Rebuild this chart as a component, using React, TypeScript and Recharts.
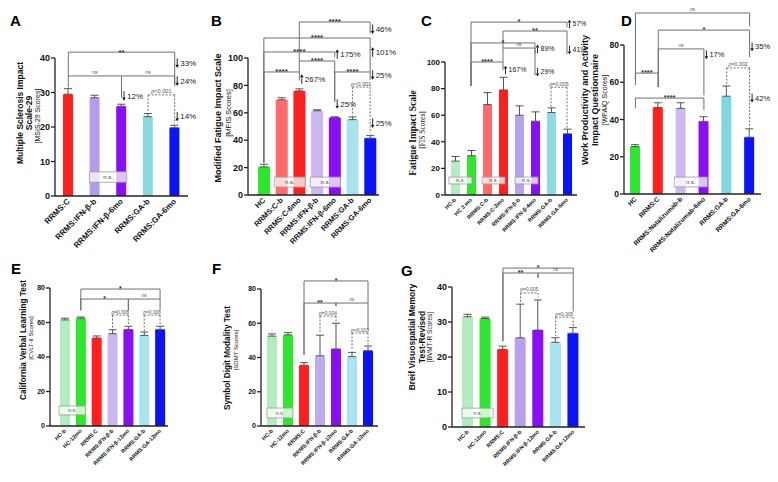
import React from 'react';
import { BarChart, Bar, XAxis, YAxis, ErrorBar, Cell, ReferenceLine, ReferenceDot, ReferenceArea } from 'recharts';

const FONT = '"Liberation Sans", Arial, sans-serif';
const SERIF = '"Liberation Serif", "Times New Roman", serif';

// ---------- data ----------
const catsA = ['RRMS:C', 'RRMS:IFN-β-b', 'RRMS:IFN-β-6mo', 'RRMS:GA-b', 'RRMS:GA-6mo'];
const valsA = [29.5, 28.5, 26, 23, 19.8];
const errsA = [1.6, 0.7, 0.6, 0.9, 0.7];

const catsB = ['HC', 'RRMS:C-b', 'RRMS:C-6mo', 'RRMS:IFN-β-b', 'RRMS:IFN-β-6mo', 'RRMS:GA-b', 'RRMS:GA-6mo'];
const valsB = [20.5, 69.5, 76, 61.5, 56.5, 55, 41.5];
const errsB = [2, 1.5, 1.5, 0.7, 0.6, 2, 2];

const catsC = ['HC-b', 'HC 3 mo', 'RRMS:C-b', 'RRMS:C-2mo', 'RRMS:IFN-β-b', 'RRMS:IFN-β-4mo', 'RRMS:GA-b', 'RRMS:GA-6mo'];
const valsC = [25.5, 29.5, 68, 79, 60, 55.5, 62, 46];
const errsC = [3.5, 4, 9, 9.5, 7, 7, 3.5, 3.5];

const catsD = ['HC', 'RRMS:C', 'RRMS:Natalizumab-b', 'RRMS:Natalizumab-6mo', 'RRMS:GA-b', 'RRMS:GA-6mo'];
const valsD = [25.5, 46.5, 46, 39, 52.5, 30.5];
const errsD = [1, 2.5, 3, 2.5, 5.5, 4.5];

const catsE = ['HC-b', 'HC-12mo', 'RRMS C', 'RRMS:IFN-β-b', 'RRMS:IFN-β-12mo', 'RRMS:GA-b', 'RRMS:GA-12mo'];
const valsE = [61.5, 62.5, 51, 53.5, 56, 52.5, 56];
const errsE = [1, 0.7, 1.2, 2.3, 1.8, 2, 1.8];

const catsF = ['HC-b', 'HC-12mo', 'RRMS:C', 'RRMS:IFN-β-b', 'RRMS:IFN-β-12mo', 'RRMS:GA-b', 'RRMS:GA-12mo'];
const valsF = [52.5, 53.2, 35.5, 41, 45, 40.5, 44];
const errsF = [1.3, 1.3, 1.5, 12, 15, 2.5, 2.7];

const catsG = ['HC-b', 'HC-12mo', 'RRMS:C', 'RRMS:IFN-β-b', 'RRMS:IFN-β-12mo', 'RRMS:GA-b', 'RRMS:GA-12mo'];
const valsG = [31.5, 31, 22.2, 25.5, 27.7, 24.2, 26.8];
const errsG = [0.7, 0.4, 0.9, 9.6, 8.6, 1.3, 1.6];

const ticks40 = [0, 10, 20, 30, 40];
const ticks80 = [0, 20, 40, 60, 80];
const ticks100 = [0, 20, 40, 60, 80, 100];

// ---------- colours ----------
const GREEN = '#2ee62e', LGREEN = '#b4ecc2', RED = '#ff1f1f', LRED = '#ff6b6b', PURPLE = '#8a0ff5', BLUE = '#0a14f5';
const colorsA = [RED, '#b49cec', PURPLE, '#8ad8e4', BLUE];
const colorsB = [GREEN, LRED, RED, '#cbb6f2', PURPLE, '#a9e4ee', BLUE];
const colorsC = [LGREEN, GREEN, LRED, RED, '#b8a2ee', PURPLE, '#8ed9e6', BLUE];
const colorsD = [GREEN, RED, '#cdb9f2', PURPLE, '#7fd7de', BLUE];
const colorsE = [LGREEN, GREEN, RED, '#cab6f2', PURPLE, '#a8e4ef', BLUE];
const colorsF = [LGREEN, GREEN, RED, '#c0aaf0', PURPLE, '#a8e4ef', BLUE];
const colorsG = [LGREEN, GREEN, RED, '#b8a0ee', PURPLE, '#a8e4ef', BLUE];

type Br = { a: string; b: string; h: number; la: number; lb: number; t: string; d?: boolean };
type Pc = { c: string; y: number; t: string; up?: boolean };
type Bx = { a: string; b: string; y1: number; y2: number; il: number; ir: number };

// ---------- annotations ----------
const brA: Br[] = [
  { a: 'RRMS:C', b: 'RRMS:GA-6mo', h: 41.7, la: 34.8, lb: 32, t: '**' },
  { a: 'RRMS:C', b: 'RRMS:IFN-β-6mo', h: 34.8, la: 31.5, lb: 28.5, t: 'ns' },
  { a: 'RRMS:IFN-β-6mo', b: 'RRMS:GA-6mo', h: 34.8, la: 34.8, lb: 32, t: 'ns' },
  { a: 'RRMS:GA-b', b: 'RRMS:GA-6mo', h: 29.3, la: 24.3, lb: 21, t: '<0.001', d: true },
];
const pcA: Pc[] = [
  { c: 'RRMS:GA-6mo', y: 38.5, t: '33%' },
  { c: 'RRMS:GA-6mo', y: 33.3, t: '24%' },
  { c: 'RRMS:IFN-β-6mo', y: 29, t: '12%' },
  { c: 'RRMS:GA-6mo', y: 23, t: '14%' },
];
const bxA: Bx[] = [{ a: 'RRMS:IFN-β-b', b: 'RRMS:IFN-β-6mo', y1: 4, y2: 7, il: 8, ir: 8 }];

const brB: Br[] = [
  { a: 'RRMS:C-6mo', b: 'RRMS:GA-6mo', h: 126.3, la: 97.8, lb: 118, t: '****' },
  { a: 'HC', b: 'RRMS:GA-6mo', h: 114.6, la: 23.5, lb: 89.8, t: '****' },
  { a: 'HC', b: 'RRMS:IFN-β-6mo', h: 104.4, la: 23.5, lb: 100.5, t: '****' },
  { a: 'RRMS:C-6mo', b: 'RRMS:IFN-β-6mo', h: 97.8, la: 89.8, lb: 68, t: '****' },
  { a: 'HC', b: 'RRMS:C-6mo', h: 89.8, la: 23.5, lb: 83.5, t: '****' },
  { a: 'RRMS:IFN-β-6mo', b: 'RRMS:GA-6mo', h: 89.8, la: 68, lb: 84, t: '****' },
  { a: 'RRMS:GA-b', b: 'RRMS:GA-6mo', h: 78.8, la: 58, lb: 45, t: '<0.001', d: true },
];
const pcB: Pc[] = [
  { c: 'RRMS:GA-6mo', y: 121, t: '46%' },
  { c: 'RRMS:GA-6mo', y: 104.4, t: '101%', up: true },
  { c: 'RRMS:GA-6mo', y: 87.6, t: '25%' },
  { c: 'RRMS:C-6mo', y: 84.7, t: '267%', up: true },
  { c: 'RRMS:IFN-β-6mo', y: 102.9, t: '175%', up: true },
  { c: 'RRMS:IFN-β-6mo', y: 66.4, t: '25%' },
  { c: 'RRMS:GA-6mo', y: 52.5, t: '25%' },
];
const bxB: Bx[] = [
  { a: 'RRMS:C-b', b: 'RRMS:C-6mo', y1: 5.8, y2: 13.1, il: 2, ir: 3 },
  { a: 'RRMS:IFN-β-b', b: 'RRMS:IFN-β-6mo', y1: 5.8, y2: 13.1, il: 2, ir: 3 },
];

const brC: Br[] = [
  { a: 'HC 3 mo', b: 'RRMS:GA-6mo', h: 130, la: 82, lb: 126, t: '*' },
  { a: 'RRMS:C-2mo', b: 'RRMS:GA-6mo', h: 123.3, la: 110.5, lb: 106, t: '**' },
  { a: 'HC 3 mo', b: 'RRMS:IFN-β-4mo', h: 114.3, la: 82, lb: 106.5, t: '*' },
  { a: 'RRMS:C-2mo', b: 'RRMS:IFN-β-4mo', h: 110.5, la: 100, lb: 90, t: 'ns' },
  { a: 'HC 3 mo', b: 'RRMS:C-2mo', h: 100, la: 82, lb: 94, t: '****' },
  { a: 'RRMS:GA-b', b: 'RRMS:GA-6mo', h: 81, la: 66, lb: 50, t: '=0.005', d: true },
];
const pcC: Pc[] = [
  { c: 'RRMS:GA-6mo', y: 128.6, t: '57%', up: true },
  { c: 'RRMS:GA-6mo', y: 109, t: '41%' },
  { c: 'RRMS:IFN-β-4mo', y: 109.8, t: '89%', up: true },
  { c: 'RRMS:C-2mo', y: 94, t: '167%', up: true },
  { c: 'RRMS:IFN-β-4mo', y: 92.5, t: '29%' },
];
const bxC: Bx[] = [
  { a: 'HC-b', b: 'HC 3 mo', y1: 8.3, y2: 13.5, il: 2, ir: 7 },
  { a: 'RRMS:C-b', b: 'RRMS:C-2mo', y1: 8.3, y2: 13.5, il: 3, ir: 6 },
  { a: 'RRMS:IFN-β-b', b: 'RRMS:IFN-β-4mo', y1: 8.3, y2: 13.5, il: 4, ir: 5 },
];

const brD: Br[] = [
  { a: 'HC', b: 'RRMS:GA-6mo', h: 97.2, la: 61, lb: 90, t: 'ns' },
  { a: 'RRMS:C', b: 'RRMS:GA-6mo', h: 88, la: 57.4, lb: 73.5, t: '*' },
  { a: 'RRMS:C', b: 'RRMS:Natalizumab-6mo', h: 77.9, la: 57.4, lb: 53, t: 'ns' },
  { a: 'HC', b: 'RRMS:C', h: 64.9, la: 58.5, lb: 57.4, t: '****' },
  { a: 'HC', b: 'RRMS:Natalizumab-6mo', h: 51.5, la: 46, lb: 45, t: '****' },
  { a: 'RRMS:GA-b', b: 'RRMS:GA-6mo', h: 67.7, la: 58.5, lb: 35.5, t: '=0.002', d: true },
];
const pcD: Pc[] = [
  { c: 'RRMS:GA-6mo', y: 79, t: '35%' },
  { c: 'RRMS:Natalizumab-6mo', y: 74.7, t: '17%' },
  { c: 'RRMS:GA-6mo', y: 51.5, t: '42%' },
];
const bxD: Bx[] = [{ a: 'RRMS:Natalizumab-b', b: 'RRMS:Natalizumab-6mo', y1: 3.8, y2: 9.1, il: 4.5, ir: 8 }];

const brE: Br[] = [
  { a: 'HC-12mo', b: 'RRMS:GA-12mo', h: 79.4, la: 67, lb: 73.6, t: '*' },
  { a: 'HC-12mo', b: 'RRMS:IFN-β-12mo', h: 73.6, la: 67, lb: 67, t: '*' },
  { a: 'RRMS:IFN-β-12mo', b: 'RRMS:GA-12mo', h: 73.6, la: 67, lb: 67, t: 'ns' },
  { a: 'RRMS:IFN-β-b', b: 'RRMS:IFN-β-12mo', h: 64.3, la: 56.5, lb: 58.5, t: '=0.006', d: true },
  { a: 'RRMS:GA-b', b: 'RRMS:GA-12mo', h: 64.3, la: 55, lb: 58.5, t: '=0.006', d: true },
];
const bxE: Bx[] = [{ a: 'HC-b', b: 'HC-12mo', y1: 6.4, y2: 11.6, il: 2, ir: 3 }];

const brF: Br[] = [
  { a: 'RRMS:C', b: 'RRMS:GA-12mo', h: 84.7, la: 41.5, lb: 71.8, t: '*' },
  { a: 'RRMS:C', b: 'RRMS:IFN-β-12mo', h: 71.8, la: 41.5, lb: 70, t: '**' },
  { a: 'RRMS:IFN-β-12mo', b: 'RRMS:GA-12mo', h: 71.8, la: 70, lb: 56, t: 'ns' },
  { a: 'RRMS:IFN-β-b', b: 'RRMS:IFN-β-12mo', h: 64.2, la: 55, lb: 61, t: '=0.004', d: true },
  { a: 'RRMS:GA-b', b: 'RRMS:GA-12mo', h: 54.3, la: 44, lb: 47.5, t: '=0.003', d: true },
];
const bxF: Bx[] = [{ a: 'HC-b', b: 'HC-12mo', y1: 4.7, y2: 10.5, il: 3, ir: 3 }];

const brG: Br[] = [
  { a: 'RRMS:C', b: 'RRMS:GA-12mo', h: 45.4, la: 24.5, lb: 44, t: '*' },
  { a: 'RRMS:C', b: 'RRMS:IFN-β-12mo', h: 44, la: 24.5, lb: 42.6, t: '**' },
  { a: 'RRMS:IFN-β-12mo', b: 'RRMS:GA-12mo', h: 44, la: 42.6, lb: 33, t: 'ns' },
  { a: 'RRMS:IFN-β-b', b: 'RRMS:IFN-β-12mo', h: 38.3, la: 35.5, lb: 37, t: '=0.005', d: true },
  { a: 'RRMS:GA-b', b: 'RRMS:GA-12mo', h: 31.4, la: 26, lb: 28.8, t: '=0.005', d: true },
];
const bxG: Bx[] = [{ a: 'HC-b', b: 'HC-12mo', y1: 2.6, y2: 5.4, il: 3, ir: 1 }];

// ---------- helpers ----------
const XTick = (props: any) => {
  const { x, y, payload, fs } = props;
  return (
    <g transform={`translate(${x},${y})`}>
      <text x={0} y={0} dy={fs * 0.35} textAnchor="end" transform="rotate(-45)" fontSize={fs} fontWeight="bold" fill="#111" fontFamily={FONT}>
        {payload.value}
      </text>
    </g>
  );
};

const brLabel = (t: string, dashed: boolean, fs: number) => (props: any) => {
  const vb = props.viewBox || {};
  const cx = (vb.x || 0) + (vb.width || 0) / 2;
  const y = vb.y || 0;
  if (dashed) {
    return (
      <text x={cx} y={y - 1.5} textAnchor="middle" fontSize={fs * 0.7} fill="#555" fontFamily={FONT}>
        <tspan fontStyle="italic">p</tspan>
        {t}
      </text>
    );
  }
  if (t.startsWith('*')) {
    return (
      <text x={cx} y={y + fs * 0.3} textAnchor="middle" fontSize={fs} fontWeight="bold" fill="#333" fontFamily={FONT}>
        {t}
      </text>
    );
  }
  return (
    <text x={cx} y={y - 2} textAnchor="middle" fontSize={fs * 0.65} fill="#555" fontFamily={FONT}>
      {t}
    </text>
  );
};

const pcLabel = (t: string, up: boolean, fs: number) => (props: any) => {
  const vb = props.viewBox || {};
  const x = (vb.x || 0) + (vb.width || 0) / 2 + 2.5;
  const y = (vb.y || 0) + (vb.height || 0) / 2;
  const half = fs * 0.6;
  const head = fs * 0.4;
  const tipY = up ? y - half : y + half;
  const baseY = up ? tipY + head : tipY - head;
  return (
    <g>
      <line x1={x} y1={up ? y + half : y - half} x2={x} y2={baseY} stroke="#111" strokeWidth={0.9} />
      <path d={`M${x - 1.8},${baseY} L${x + 1.8},${baseY} L${x},${tipY} Z`} fill="#111" />
      <text x={x + 3} y={y + fs * 0.35} fontSize={fs} fill="#222" fontFamily={FONT}>
        {t}
      </text>
    </g>
  );
};

const nsShape = (il: number, ir: number, fs: number) => (props: any) => {
  const { x, y, width, height } = props;
  const rx = x + il;
  const rw = Math.max(1, width - il - ir);
  return (
    <g>
      <rect x={rx} y={y} width={rw} height={height} fill="#ffffff" fillOpacity={0.75} stroke="#9a9a9a" strokeWidth={0.8} />
      <text x={rx + rw / 2} y={y + height / 2 + fs * 0.35} textAnchor="middle" fontSize={fs} fill="#444" fontFamily={FONT}>
        n.s.
      </text>
    </g>
  );
};

type PanelProps = {
  cats: string[]; vals: number[]; errs: number[]; colors: string[];
  x0: number; x1: number; yTop: number; yBot: number; padL: number; padR: number;
  ymax: number; ticks: number[]; barSize: number; tickFs: number; xFs: number;
  starFs: number; pcFs: number; nsFs: number;
  brackets: Br[]; pcts: Pc[]; boxes: Bx[];
};

function Panel(p: PanelProps) {
  const YW = 30, MT = 70, MR = 50, XH = 90;
  const data = p.cats.map((c, i) => ({ name: c, v: p.vals[i], e: [0, p.errs[i]] }));
  const left = p.x0 - YW;
  const top = p.yTop - MT;
  const width = YW + (p.x1 - p.x0) + MR;
  const height = MT + (p.yBot - p.yTop) + XH;
  const lines: any[] = [];
  p.brackets.forEach((b, i) => {
    const stroke = '#707070';
    const dash = b.d ? '2 1.5' : undefined;
    lines.push(
      <ReferenceLine key={`h${i}`} segment={[{ x: b.a, y: b.h }, { x: b.b, y: b.h }]} stroke={stroke} strokeWidth={1} strokeDasharray={dash} ifOverflow="visible" label={brLabel(b.t, !!b.d, p.starFs)} />
    );
    lines.push(
      <ReferenceLine key={`l${i}`} segment={[{ x: b.a, y: b.h }, { x: b.a, y: b.la }]} stroke={stroke} strokeWidth={1} strokeDasharray={dash} ifOverflow="visible" />
    );
    lines.push(
      <ReferenceLine key={`r${i}`} segment={[{ x: b.b, y: b.h }, { x: b.b, y: b.lb }]} stroke={stroke} strokeWidth={1} strokeDasharray={dash} ifOverflow="visible" />
    );
  });
  return (
    <div style={{ position: 'absolute', left, top, width, height }}>
      <BarChart width={width} height={height} data={data} margin={{ top: MT, right: MR, left: 0, bottom: 0 }}>
        <XAxis dataKey="name" type="category" height={XH} padding={{ left: p.padL, right: p.padR }} axisLine={{ stroke: '#222', strokeWidth: 1.3 }} tickLine={false} tickSize={2} tickMargin={2} interval={0} tick={<XTick fs={p.xFs} />} />
        <YAxis type="number" width={YW} domain={[0, p.ymax]} ticks={p.ticks} interval={0} allowDataOverflow axisLine={{ stroke: '#222', strokeWidth: 1.3 }} tickLine={{ stroke: '#222', strokeWidth: 1.3 }} tickSize={4} tickMargin={1} tick={{ fontSize: p.tickFs, fontWeight: 'bold', fill: '#111', fontFamily: FONT }} />
        <Bar dataKey="v" barSize={p.barSize} isAnimationActive={false}>
          {data.map((d, i) => (
            <Cell key={i} fill={p.colors[i]} />
          ))}
          <ErrorBar dataKey="e" width={4} stroke="#555" strokeWidth={1} direction="y" isAnimationActive={false} />
        </Bar>
        {lines}
        {p.pcts.map((c, i) => (
          <ReferenceDot key={`p${i}`} x={c.c} y={c.y} r={0.5} fill="none" stroke="none" ifOverflow="visible" label={pcLabel(c.t, !!c.up, p.pcFs)} />
        ))}
        {p.boxes.map((b, i) => (
          <ReferenceArea key={`b${i}`} x1={b.a} x2={b.b} y1={b.y1} y2={b.y2} ifOverflow="visible" zIndex={1500} shape={nsShape(b.il, b.ir, p.nsFs)} />
        ))}
      </BarChart>
    </div>
  );
}

type TL = { t: string; x: number; y: number; fs: number; bold?: boolean; serif?: boolean };
const titles: TL[] = [
  { t: 'Multiple Sclerosis Impact', x: 23, y: 113, fs: 8.5, bold: true },
  { t: 'Scale-29', x: 32, y: 113, fs: 8.5, bold: true },
  { t: '[MSIS-29 Scores]', x: 40, y: 116, fs: 7 },
  { t: 'Modified Fatigue Impact Scale', x: 221, y: 118, fs: 9, bold: true },
  { t: '[MFIS Scores]', x: 231, y: 113, fs: 7.5 },
  { t: 'Fatigue Impact Scale', x: 416, y: 133, fs: 9.5, bold: true, serif: true },
  { t: '[FIS Scores]', x: 425, y: 130, fs: 7.5, serif: true },
  { t: 'Work Productivity and Activity', x: 588, y: 100, fs: 9, bold: true },
  { t: 'Impact Questionnaire', x: 598, y: 100, fs: 9, bold: true },
  { t: '[WPAIQ Scores]', x: 607, y: 100, fs: 7 },
  { t: 'California Verbal Learning Test', x: 26, y: 340, fs: 8.2, bold: true },
  { t: '[CVLT-II Scores]', x: 33, y: 338, fs: 6 },
  { t: 'Symbol Digit Modality Test', x: 230, y: 358, fs: 8.2, bold: true },
  { t: '[SDMT Scores]', x: 238, y: 350, fs: 6 },
  { t: 'Breif Visuospatial Memory', x: 415, y: 337, fs: 8.5, bold: true },
  { t: 'Test-Revised', x: 425, y: 337, fs: 8.5, bold: true },
  { t: '[BVMT-R Scores]', x: 432, y: 337, fs: 6.5 },
];
const letters = [
  { t: 'A', x: 10, y: 26 },
  { t: 'B', x: 211, y: 26 },
  { t: 'C', x: 421, y: 26 },
  { t: 'D', x: 621, y: 26 },
  { t: 'E', x: 11, y: 274 },
  { t: 'F', x: 212, y: 274 },
  { t: 'G', x: 401, y: 276 },
];

export default function App() {
  return (
    <div style={{ position: 'absolute', left: 0, top: 0, width: 778, height: 482, background: '#fff', overflow: 'hidden' }}>
      <svg width={778} height={482} style={{ position: 'absolute', left: 0, top: 0 }}>
        {titles.map((l, i) => (
          <text key={i} x={l.x} y={l.y} transform={`rotate(-90 ${l.x} ${l.y})`} textAnchor="middle" fontSize={l.fs} fontWeight={l.bold ? 'bold' : 'normal'} fill="#111" fontFamily={l.serif ? SERIF : FONT}>
            {l.t}
          </text>
        ))}
        {letters.map((l, i) => (
          <text key={`L${i}`} x={l.x} y={l.y} fontSize={15} fontWeight="bold" fill="#000" fontFamily={FONT}>
            {l.t}
          </text>
        ))}
      </svg>
      <Panel cats={catsA} vals={valsA} errs={errsA} colors={colorsA} x0={55} x1={188} yTop={58} yBot={196} padL={0} padR={0} ymax={40} ticks={ticks40} barSize={10} tickFs={9} xFs={8} starFs={8} pcFs={8} nsFs={6} brackets={brA} pcts={pcA} boxes={bxA} />
      <Panel cats={catsB} vals={valsB} errs={errsB} colors={colorsB} x0={248} x1={379} yTop={58} yBot={195} padL={7} padR={0} ymax={100} ticks={ticks100} barSize={12} tickFs={9} xFs={7.5} starFs={8} pcFs={8} nsFs={6} brackets={brB} pcts={pcB} boxes={bxB} />
      <Panel cats={catsC} vals={valsC} errs={errsC} colors={colorsC} x0={445} x1={577} yTop={62} yBot={195} padL={2} padR={2} ymax={100} ticks={ticks100} barSize={9} tickFs={8} xFs={5.5} starFs={7.5} pcFs={7} nsFs={5.5} brackets={brC} pcts={pcC} boxes={bxC} />
      <Panel cats={catsD} vals={valsD} errs={errsD} colors={colorsD} x0={624} x1={761} yTop={45} yBot={194} padL={0} padR={0} ymax={80} ticks={ticks80} barSize={10} tickFs={8.5} xFs={6.5} starFs={7.5} pcFs={7.5} nsFs={6} brackets={brD} pcts={pcD} boxes={bxD} />
      <Panel cats={catsE} vals={valsE} errs={errsE} colors={colorsE} x0={50} x1={168} yTop={288} yBot={426} padL={7} padR={0} ymax={80} ticks={ticks80} barSize={10} tickFs={7} xFs={5.5} starFs={7} pcFs={7} nsFs={5} brackets={brE} pcts={[]} boxes={bxE} />
      <Panel cats={catsF} vals={valsF} errs={errsF} colors={colorsF} x0={261} x1={378} yTop={289} yBot={426} padL={3} padR={2} ymax={80} ticks={ticks80} barSize={10} tickFs={7} xFs={5.5} starFs={7} pcFs={7} nsFs={5} brackets={brF} pcts={[]} boxes={bxF} />
      <Panel cats={catsG} vals={valsG} errs={errsG} colors={colorsG} x0={452} x1={585} yTop={287} yBot={427} padL={7} padR={3} ymax={40} ticks={ticks40} barSize={11} tickFs={9} xFs={5.5} starFs={7} pcFs={7} nsFs={5} brackets={brG} pcts={[]} boxes={bxG} />
    </div>
  );
}
